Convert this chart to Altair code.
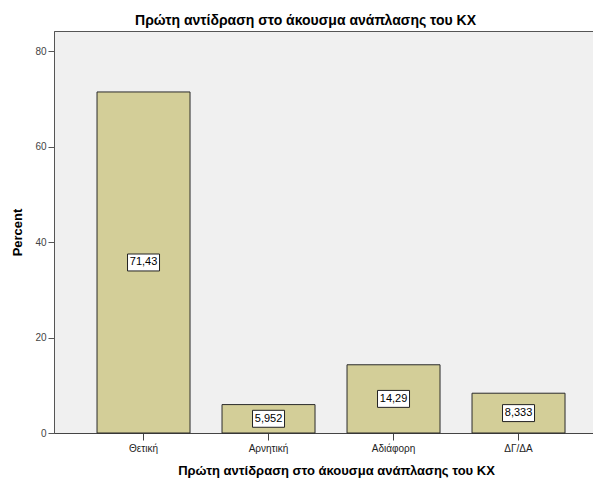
import altair as alt
import pandas as pd

categories = ["Θετική", "Αρνητική", "Αδιάφορη", "ΔΓ/ΔΑ"]
percents = [71.43, 5.952, 14.29, 8.333]
value_labels = ["71,43", "5,952", "14,29", "8,333"]
y_ticks = [0, 20, 40, 60, 80]

df = pd.DataFrame({"cat": categories, "pct": percents, "lab": value_labels})

FONT = "Liberation Sans"

x_enc = alt.X(
    "cat:N",
    sort=categories,
    title="Πρώτη αντίδραση στο άκουσμα ανάπλασης του ΚΧ",
    scale=alt.Scale(paddingInner=0.256, paddingOuter=0.284, align=0.606),
    axis=alt.Axis(
        labelAngle=0, labelFont=FONT, labelFontSize=10, labelColor="#222",
        tickSize=7, tickColor="#444", domainColor="#444", labelPadding=3,
        titleFont=FONT, titleFontSize=13, titleFontWeight="bold", titleColor="#000",
        titlePadding=11, titleX=282,
    ),
)

bars = alt.Chart(df).mark_bar(color="#D3CE98", stroke="#2b2b2b", strokeWidth=1).encode(
    x=x_enc,
    y=alt.Y(
        "pct:Q",
        title="Percent",
        scale=alt.Scale(domain=[0, 84.2], nice=False),
        axis=alt.Axis(
            values=y_ticks, grid=False, labelFont=FONT, labelFontSize=10,
            labelColor="#444", tickSize=6, tickColor="#555", domainColor="#555",
            titleFont=FONT, titleFontSize=13, titleFontWeight="bold",
            titleColor="#000", titlePadding=10,
        ),
    ),
)

base = alt.Chart(df).transform_calculate(mid="datum.pct / 2")

boxes = base.mark_point(
    shape="M-1,-0.53H1V0.53H-1Z", filled=True, fill="white", stroke="#222",
    strokeWidth=1, opacity=1, size=1024,
).encode(x=alt.X("cat:N", sort=categories), y="mid:Q")

texts = base.mark_text(font=FONT, fontSize=11, color="#000", baseline="middle").encode(
    x=alt.X("cat:N", sort=categories), y="mid:Q", text="lab:N"
)

chart = (
    alt.layer(bars, boxes, texts)
    .properties(
        width=539,
        height=402,
        background="white",
        title=alt.TitleParams(
            "Πρώτη αντίδραση στο άκουσμα ανάπλασης του ΚΧ",
            font=FONT, fontSize=14, fontWeight="bold", color="#000",
            offset=3, dx=-18,
        ),
        autosize=alt.AutoSizeParams(type="none"),
        padding={"left": 46, "top": 23, "right": 0, "bottom": 45},
    )
    .configure_view(fill="#F0F0F0", stroke="#555", strokeWidth=1)
)

chart.save("out.html", embed_options={"renderer": "svg", "actions": False})
